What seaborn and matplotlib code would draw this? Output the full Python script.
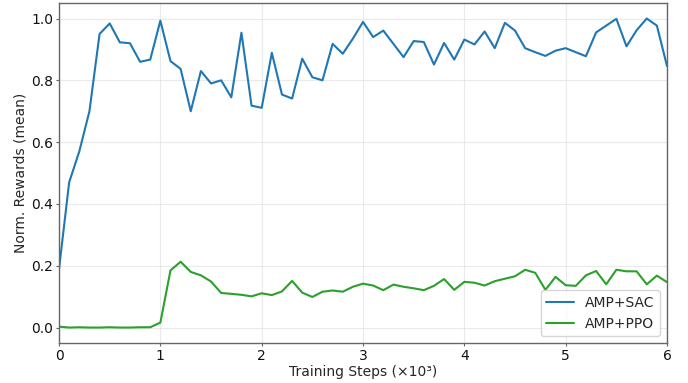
import numpy as np
import pandas as pd
import matplotlib
matplotlib.use("Agg")
import matplotlib.pyplot as plt
import seaborn as sns

steps = [round(i * 0.1, 1) for i in range(61)]

amp_sac = [0.19, 0.47, 0.57, 0.70, 0.95, 0.984, 0.923, 0.92, 0.86, 0.867,
           0.993, 0.862, 0.837, 0.70, 0.83, 0.79, 0.80, 0.745, 0.954, 0.718,
           0.711, 0.889, 0.754, 0.741, 0.87, 0.81, 0.80, 0.918, 0.886, 0.935,
           0.989, 0.94, 0.961, 0.918, 0.875, 0.927, 0.924, 0.851, 0.921, 0.867,
           0.932, 0.916, 0.958, 0.904, 0.986, 0.961, 0.904, 0.891, 0.879, 0.896,
           0.904, 0.891, 0.878, 0.955, 0.977, 0.999, 0.91, 0.962, 1.0, 0.977,
           0.846]

amp_ppo = [0.003, 0.0, 0.001, 0.0, 0.0, 0.001, 0.0, 0.0, 0.001, 0.001,
           0.016, 0.185, 0.213, 0.18, 0.169, 0.149, 0.112, 0.109, 0.106, 0.101,
           0.111, 0.105, 0.117, 0.151, 0.113, 0.099, 0.116, 0.12, 0.116, 0.132,
           0.142, 0.136, 0.121, 0.139, 0.132, 0.127, 0.121, 0.135, 0.157, 0.122,
           0.148, 0.145, 0.136, 0.15, 0.158, 0.166, 0.187, 0.177, 0.122, 0.164,
           0.137, 0.135, 0.169, 0.183, 0.14, 0.187, 0.182, 0.182, 0.14, 0.168,
           0.147]

series_names = ["AMP+SAC", "AMP+PPO"]
colors = ["#1f77b4", "#2ca02c"]

df = pd.DataFrame({
    "step": steps * 2,
    "reward": amp_sac + amp_ppo,
    "method": [series_names[0]] * len(steps) + [series_names[1]] * len(steps),
})

sns.set_style("ticks")
plt.rcParams["font.family"] = ["DejaVu Sans"]

fig, ax = plt.subplots(figsize=(6.88, 3.83), dpi=100)
fig.subplots_adjust(left=0.0858, right=0.9695, top=0.992, bottom=0.1044)

sns.lineplot(data=df, x="step", y="reward", hue="method", palette=colors,
             linewidth=1.5, ax=ax)

ax.set_xlim(0, 6)
ax.set_ylim(-0.05, 1.05)
ax.set_xticks([0, 1, 2, 3, 4, 5, 6])
ax.set_yticks([0.0, 0.2, 0.4, 0.6, 0.8, 1.0])
ax.set_yticklabels(["0.0", "0.2", "0.4", "0.6", "0.8", "1.0"])
ax.grid(True, color="#dddddd", linewidth=0.8, alpha=0.6)
for s in ax.spines.values():
    s.set_color("#666666")
    s.set_linewidth(1.0)
ax.tick_params(labelsize=10, colors="#666666", labelcolor="#111111",
               length=2.5, pad=1.5)
ax.set_xlabel("Training Steps (×10³)", fontsize=10, labelpad=1.5)
ax.set_ylabel("Norm. Rewards (mean)", fontsize=10, labelpad=3)
leg = ax.legend(loc="lower right", fontsize=10, frameon=True, title=None)

fig.savefig("out.png", dpi=100)
